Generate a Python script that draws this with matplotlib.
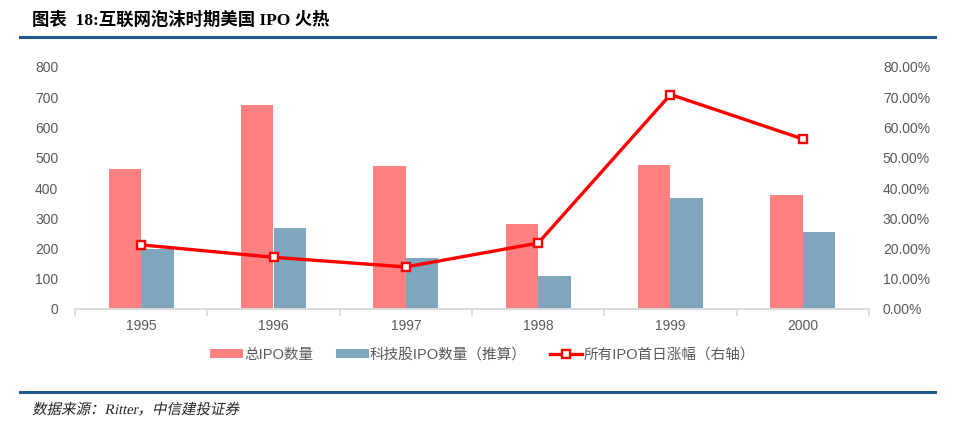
import matplotlib
matplotlib.use("Agg")
import matplotlib.pyplot as plt
from matplotlib.patches import Patch, PathPatch
from matplotlib.lines import Line2D
from matplotlib.textpath import TextPath
from matplotlib.font_manager import FontProperties
from matplotlib.transforms import Affine2D
from matplotlib.ticker import FuncFormatter, MultipleLocator
import numpy as np

years = ["1995", "1996", "1997", "1998", "1999", "2000"]
total_ipo = [462, 675, 474, 282, 476, 378]
tech_ipo = [200, 267, 168, 110, 368, 255]
first_day_return = [21.2, 17.1, 13.9, 21.8, 70.9, 56.2]

title = "图表  18:互联网泡沫时期美国 IPO 火热"
source = "数据来源：Ritter，中信建投证券"
legend_labels = ["总IPO数量", "科技股IPO数量（推算）", "所有IPO首日涨幅（右轴）"]

PINK = "#FF8080"
BLUE = "#7FA5BF"
RED = "#FF0000"
GREY = "#595959"
NAVY = "#1F5A8A"

cjk = ["Liberation Sans", "Noto Sans CJK SC", "DejaVu Sans"]

fig = plt.figure(figsize=(9.6, 4.29), dpi=100)
ax = fig.add_axes([75/960, 1-309/429, (869-75)/960, (309-67)/429])
ax2 = ax.twinx()

x = np.arange(len(years))
w = 0.245
ax.bar(x - w/2, total_ipo, width=w, color=PINK, zorder=2)
ax.bar(x + w/2, tech_ipo, width=w, color=BLUE, zorder=2)
ax.set_xlim(-0.5, len(years) - 0.5)
ax.set_ylim(0, 800)
ax.yaxis.set_major_locator(MultipleLocator(100))

ax2.plot(x, first_day_return, color=RED, lw=2.4, marker="s", ms=6,
         mfc="white", mec=RED, mew=1.7, zorder=5)
ax2.set_ylim(0, 80)
ax2.yaxis.set_major_locator(MultipleLocator(10))
ax2.yaxis.set_major_formatter(FuncFormatter(lambda v, p: f"{v:.2f}%"))

for a in (ax, ax2):
    for s in ("top", "right", "left"):
        a.spines[s].set_visible(False)
    a.spines["bottom"].set_color("#D9D9D9")
    a.spines["bottom"].set_linewidth(1.2)
    a.tick_params(axis="y", length=0, labelsize=10, labelcolor=GREY)
    for lab in a.get_yticklabels():
        lab.set_fontfamily("Liberation Sans")

ax.tick_params(axis="y", pad=12)
ax2.tick_params(axis="y", pad=10)
ax.set_xticks(x)
ax.set_xticklabels(years, fontfamily="Liberation Sans", fontsize=10, color=GREY)
ax.tick_params(axis="x", length=0, pad=7)
ax.set_xticks(np.arange(len(years) + 1) - 0.5, minor=True)
ax.tick_params(axis="x", which="minor", length=5, color="#D9D9D9", width=1.2)

handles = [
    Patch(facecolor=PINK, edgecolor="none"),
    Patch(facecolor=BLUE, edgecolor="none"),
    Line2D([0], [0], color=RED, lw=2.4, marker="s", ms=6, mfc="white", mec=RED, mew=1.7),
]
leg = fig.legend(handles, legend_labels, loc="center", bbox_to_anchor=(0.503, 1-355/429),
                 ncol=3, frameon=False, handlelength=2.2, handleheight=0.6,
                 handletextpad=0.1, columnspacing=1.6,
                 prop={"family": cjk, "size": 10.5})
for t in leg.get_texts():
    t.set_color(GREY)

fig.text(32/960, 1-20/429, title, fontsize=12.5, fontweight="bold",
         family=["Liberation Serif", "Noto Sans CJK SC"], va="center", ha="left", color="black")
fig.add_artist(Line2D([20/960, 935/960], [1-37/429, 1-37/429], color=NAVY, lw=2.2))
fig.add_artist(Line2D([20/960, 935/960], [1-392/429, 1-392/429], color=NAVY, lw=2.2))

# italic (slanted) source line drawn as a skewed text path, in pixel units
try:
    fp = FontProperties(family=["Liberation Serif", "Noto Sans CJK SC"], size=14.5)
    tp = TextPath((0, 0), source, prop=fp)
    tr = Affine2D().skew_deg(12, 0).translate(32, 429 - 414)
    pp = PathPatch(tr.transform_path(tp), facecolor="#222222", edgecolor="none",
                   transform=None)
    fig.add_artist(pp)
except Exception:
    fig.text(32/960, 1-409/429, source, fontsize=10.5, style="italic",
             family=["Liberation Serif", "Noto Sans CJK SC"], va="center", ha="left", color="#222222")

fig.savefig("out.png", dpi=100)
